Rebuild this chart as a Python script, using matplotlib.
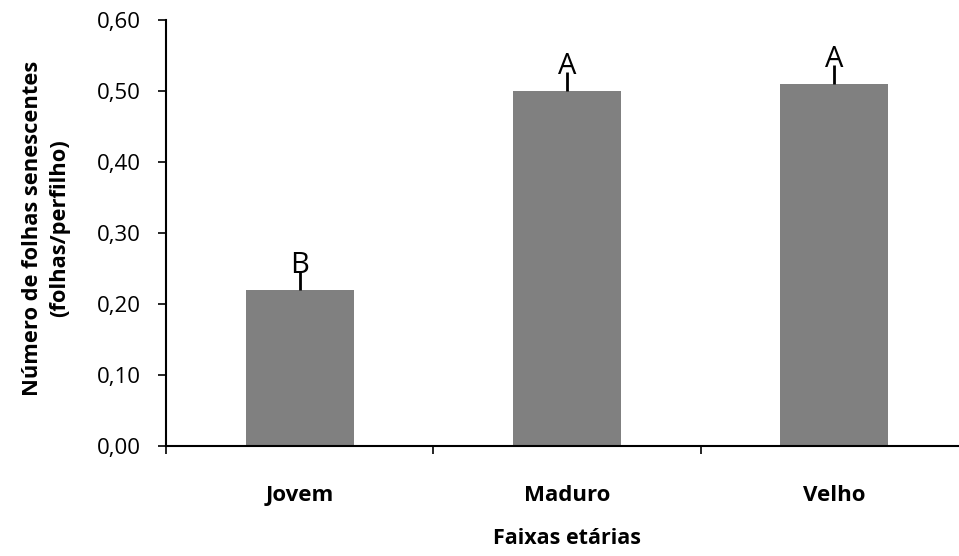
import matplotlib
matplotlib.use("Agg")
import matplotlib.pyplot as plt
import numpy as np

categories = ["Jovem", "Maduro", "Velho"]
values = [0.22, 0.50, 0.51]
errors = [0.027, 0.027, 0.027]
letters = ["B", "A", "A"]
yticks = [0.0, 0.1, 0.2, 0.3, 0.4, 0.5, 0.6]
ytick_labels = ["0,00", "0,10", "0,20", "0,30", "0,40", "0,50", "0,60"]

plt.rcParams['font.family'] = ['Open Sans', 'DejaVu Sans']

fig = plt.figure(figsize=(9.59, 5.56), dpi=100)
ax = fig.add_axes([166/959, 1-446/556, 802/959, 426/556])

x = np.arange(len(categories))
ax.bar(x, values, width=0.405, color="#808080", zorder=2)
ax.errorbar(x, values, yerr=[np.zeros(len(values)), errors], fmt='none',
            ecolor='black', elinewidth=2, capsize=0, zorder=3)
for xi, v, e, l in zip(x, values, errors, letters):
    ax.text(xi, v + e - 0.003, l, ha='center', va='baseline', fontsize=21,
            color='black', zorder=4)

ax.set_xlim(-0.5, 2.5)
ax.set_ylim(0, 0.6)
ax.set_yticks(yticks)
ax.set_yticklabels(ytick_labels, fontsize=16)
ax.set_xticks(x)
ax.set_xticklabels(categories, fontsize=16, fontweight='bold')
ax.set_xticks(np.arange(-0.5, 2.6, 1.0), minor=True)
ax.tick_params(axis='x', which='major', length=0, pad=28)
ax.tick_params(axis='x', which='minor', length=6, width=1.2, direction='out')
ax.tick_params(axis='y', which='major', length=6, width=1.2, direction='out', pad=12)

for s in ['top', 'right']:
    ax.spines[s].set_visible(False)
for s in ['left', 'bottom']:
    ax.spines[s].set_linewidth(1.5)
    ax.spines[s].set_color('black')

ax.set_xlabel("Faixas etárias", fontsize=15.5, fontweight='bold', labelpad=16)
ax.set_ylabel("Número de folhas senescentes\n(folhas/perfilho)", fontsize=15.75,
              fontweight='bold', linespacing=1.35)
ax.yaxis.set_label_coords(-0.12, 0.512)

fig.savefig("out.png", dpi=100)
